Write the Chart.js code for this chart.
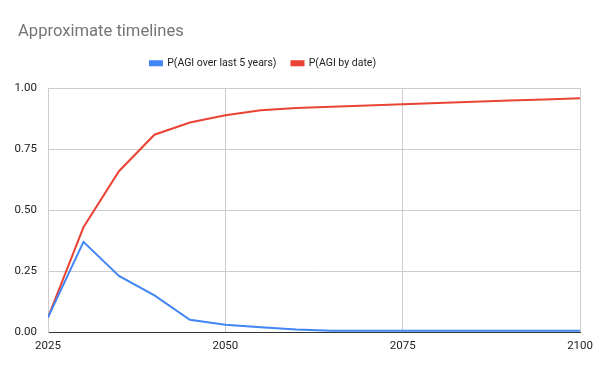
<!DOCTYPE html>
<html>
<head>
<meta charset="utf-8">
<script src="https://cdn.jsdelivr.net/npm/chart.js@4/dist/chart.umd.min.js"></script>
<style>
  html, body { margin: 0; padding: 0; background: #fff; }
  #wrap { width: 600px; height: 371px; }
</style>
</head>
<body>
<div id="wrap"><canvas id="chart" width="600" height="371"></canvas></div>
<script>
// --- DATA ---
const years = [2025, 2030, 2035, 2040, 2045, 2050, 2055, 2060, 2065, 2070, 2075, 2080, 2085, 2090, 2095, 2100];
const pOverLast5 = [0.06, 0.37, 0.23, 0.15, 0.05, 0.03, 0.02, 0.01, 0.005, 0.005, 0.005, 0.005, 0.005, 0.005, 0.005, 0.005];
const pByDate = [0.06, 0.43, 0.66, 0.81, 0.86, 0.89, 0.91, 0.92, 0.925, 0.93, 0.935, 0.94, 0.945, 0.95, 0.955, 0.96];
const xTicks = [2025, 2050, 2075, 2100];
const yTicks = [0, 0.25, 0.5, 0.75, 1];

const toPoints = (vals) => years.map((y, i) => ({ x: y, y: vals[i] }));

Chart.defaults.font.family = "Roboto, Arial, sans-serif";
Chart.defaults.color = "#222";

// title is indented and legend sits up and a bit left of centre in the reference
const nudgeBlocks = {
    id: 'nudgeBlocks',
    afterLayout(chart) {
        chart.titleBlock.left += 18;
        chart.titleBlock.right += 18;
        chart.legend.left -= 28;
        chart.legend.right -= 28;
        chart.legend.top -= 10;
        chart.legend.bottom -= 10;
    }
};

new Chart(document.getElementById("chart"), {
    type: 'line',
    data: {
        datasets: [
            {
                label: 'P(AGI over last 5 years)',
                data: toPoints(pOverLast5),
                borderColor: '#4285F4',
                backgroundColor: '#4285F4',
                borderWidth: 2,
                pointRadius: 0,
                tension: 0
            },
            {
                label: 'P(AGI by date)',
                data: toPoints(pByDate),
                borderColor: '#EA4335',
                backgroundColor: '#EA4335',
                borderWidth: 2,
                pointRadius: 0,
                tension: 0
            }
        ]
    },
    plugins: [nudgeBlocks],
    options: {
        responsive: false,
        animation: false,
        layout: { padding: { left: 0, right: 18, top: 0, bottom: 0 } },
        plugins: {
            title: {
                display: true,
                text: 'Approximate timelines',
                align: 'start',
                color: '#757575',
                font: { size: 16.6, weight: 'normal' },
                padding: { top: 22, bottom: 11 }
            },
            legend: {
                position: 'top',
                labels: {
                    boxWidth: 12,
                    boxHeight: 4,
                    font: { size: 10.5 },
                    padding: 15
                }
            },
            tooltip: { enabled: false }
        },
        scales: {
            x: {
                type: 'linear',
                min: 2025,
                max: 2100,
                afterBuildTicks: (axis) => { axis.ticks = xTicks.map(v => ({ value: v })); },
                afterFit: (axis) => { axis.height = 39; },
                ticks: {
                    callback: (v) => String(v),
                    font: { size: 11.5 },
                    color: '#222',
                    padding: 7,
                    maxRotation: 0
                },
                grid: { color: '#cccccc', drawTicks: false },
                border: { color: '#333333', width: 1 }
            },
            y: {
                min: 0,
                max: 1,
                afterBuildTicks: (axis) => { axis.ticks = yTicks.map(v => ({ value: v })); },
                afterFit: (axis) => { axis.width = 48; },
                ticks: {
                    callback: (v) => v.toFixed(2),
                    font: { size: 11.5 },
                    color: '#222',
                    padding: 11
                },
                grid: {
                    color: (ctx) => ctx.tick && ctx.tick.value === 0 ? '#333333' : '#cccccc',
                    drawTicks: false
                },
                border: { color: '#cccccc' }
            }
        }
    }
});
</script>
</body>
</html>
